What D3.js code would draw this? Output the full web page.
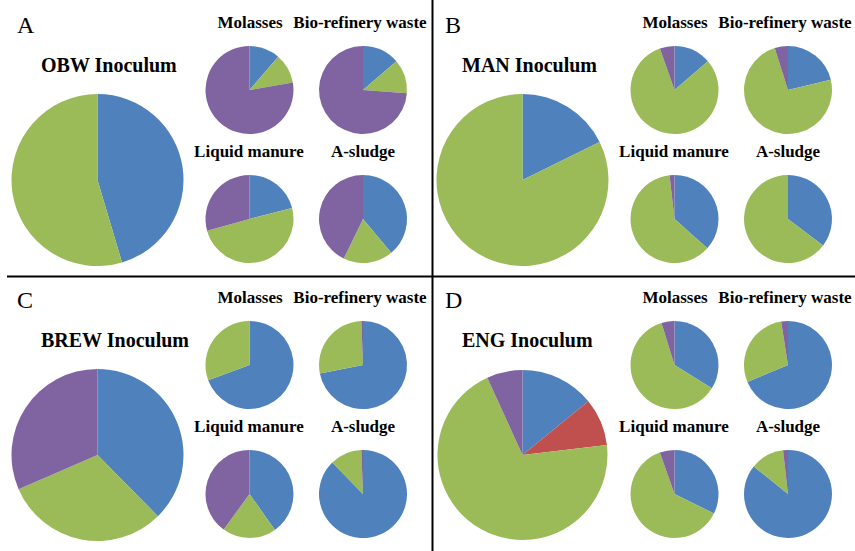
<!DOCTYPE html>
<html>
<head>
<meta charset="utf-8">
<script src="https://cdn.jsdelivr.net/npm/d3@7"></script>
<style>
  body { margin: 0; background: #fff; }
</style>
</head>
<body>
<script>
// shares (%) per pie, order: blue, red, green, purple (clockwise from 12 o'clock)
var series = ["Series 1", "Series 2", "Series 3", "Series 4"];
var colors = ["#4f81bd", "#c0504d", "#9bbb59", "#8064a2"];
var panels = ["A", "B", "C", "D"];
var inocula = ["OBW Inoculum", "MAN Inoculum", "BREW Inoculum", "ENG Inoculum"];
var substrates = ["Molasses", "Bio-refinery waste", "Liquid manure", "A-sludge"];

var inoculumShares = [
    [45.4, 0, 54.6, 0],
    [17.7, 0, 82.3, 0],
    [37.6, 0, 30.9, 31.5],
    [14.1, 9.0, 70.1, 6.8]
];

// rows: Molasses, Bio-refinery waste, Liquid manure, A-sludge
var obwShares = [
    [11.3, 0, 11.0, 77.7],
    [13.7, 0, 12.5, 73.8],
    [21.0, 0, 49.7, 29.3],
    [38.9, 0, 18.3, 42.8]
];
var manShares = [
    [13.7, 0, 80.9, 5.4],
    [21.3, 0, 73.8, 4.9],
    [36.6, 0, 61.6, 1.8],
    [35.3, 0, 64.7, 0]
];
var brewShares = [
    [69.4, 0, 30.6, 0],
    [71.9, 0, 27.5, 0.6],
    [40.2, 0, 19.8, 40.0],
    [87.7, 0, 11.7, 0.6]
];
var engShares = [
    [33.9, 0, 61.3, 4.8],
    [68.7, 0, 28.8, 2.5],
    [32.3, 0, 62.3, 5.4],
    [85.8, 0, 12.4, 1.8]
];
var substrateShares = [obwShares, manShares, brewShares, engShares];

var W = 855, H = 551;
var font = "'Liberation Serif', 'Times New Roman', serif";
var svg = d3.select("body").append("svg")
    .attr("width", W)
    .attr("height", H);

var color = d3.scaleOrdinal().domain(series).range(colors);
var pie = d3.pie().sort(null).value(function(d) { return d.v; });

// panel layout
var origins = [[0, 0], [425, 0], [0, 275], [425, 275]];
var bigR = 86, smallR = 44;
var smallX = [249.5, 363], smallY = [90, 219];
var labelX = [250, 360, 249, 363];
var labelY = [28, 28, 157, 157];

function drawPie(g, shares, cx, cy, r) {
    var data = shares.map(function(v, i) { return { k: series[i], v: v }; });
    var arc = d3.arc().innerRadius(0).outerRadius(r);
    g.append("g")
        .attr("transform", "translate(" + cx + "," + cy + ")")
        .selectAll("path")
        .data(pie(data))
        .enter().append("path")
        .attr("d", arc)
        .attr("fill", function(d) { return color(d.data.k); });
}

panels.forEach(function(p, i) {
    var o = origins[i];
    var g = svg.append("g").attr("transform", "translate(" + o[0] + "," + o[1] + ")");
    var right = i % 2 == 1;

    g.append("text")
        .attr("x", right ? 20 : 17)
        .attr("y", 33)
        .style("font-family", font)
        .style("font-size", "24px")
        .text(p);

    g.append("text")
        .attr("x", right ? 37 : 41)
        .attr("y", 72)
        .style("font-family", font)
        .style("font-size", "20px")
        .style("font-weight", "bold")
        .text(inocula[i]);

    drawPie(g, inoculumShares[i], 97.5, 180, i == 3 ? 85 : bigR);

    substrates.forEach(function(s, j) {
        g.append("text")
            .attr("x", labelX[j])
            .attr("y", labelY[j])
            .attr("text-anchor", "middle")
            .style("font-family", font)
            .style("font-size", "17px")
            .style("font-weight", "bold")
            .text(s);
        drawPie(g, substrateShares[i][j], smallX[j % 2], smallY[Math.floor(j / 2)], smallR);
    });
});

// divider lines
svg.append("line")
    .attr("x1", 432.5).attr("x2", 432.5)
    .attr("y1", 0).attr("y2", H)
    .attr("stroke", "#000").attr("stroke-width", 2);
svg.append("line")
    .attr("x1", 7).attr("x2", W)
    .attr("y1", 276.5).attr("y2", 276.5)
    .attr("stroke", "#000").attr("stroke-width", 2);
</script>
</body>
</html>
